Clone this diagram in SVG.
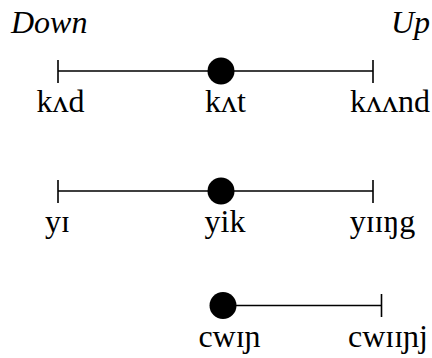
<svg xmlns="http://www.w3.org/2000/svg" width="432" height="358" viewBox="0 0 432 358" font-family="Liberation Serif">
<style>
  text { font-family: 'Liberation Serif', serif; font-size: 32px; fill: #000; }
  .lbl { text-anchor: middle; }
  .ttl { font-style: italic; }
  .ln { stroke: #000; stroke-width: 1.6; fill: none; }
  .dot { fill: #000; }
</style>
<rect width="432" height="358" fill="#fff"/>
<g id="titles">
  <text class="ttl" x="11" y="33">Down</text>
  <text class="ttl" x="391" y="33">Up</text>
</g>
<g id="connectors">
  <path class="ln" d="M58,71 H373 M58,60 V83 M373,60 V83"/>
  <path class="ln" d="M58,191 H373 M58,180 V203 M373,180 V203"/>
  <path class="ln" d="M223,305.5 H381.5 M381.5,294 V317"/>
</g>
<g id="row1">
  <circle class="dot" cx="221" cy="71" r="13.5"/>
  <text class="lbl" x="60.5" y="112">kʌd</text>
  <text class="lbl" x="225.5" y="112">kʌt</text>
  <text class="lbl" x="390" y="112">kʌʌnd</text>
</g>
<g id="row2">
  <circle class="dot" cx="221" cy="191" r="13.5"/>
  <text class="lbl" x="57.5" y="232">yɪ</text>
  <text class="lbl" x="225" y="232">yik</text>
  <text class="lbl" x="382.5" y="232">yɪɪŋg</text>
</g>
<g id="row3">
  <circle class="dot" cx="223" cy="305.5" r="13.5"/>
  <text class="lbl" x="229.5" y="347">cwɪɲ</text>
  <text class="lbl" x="388" y="347">cwɪɪɲj</text>
</g>
</svg>
